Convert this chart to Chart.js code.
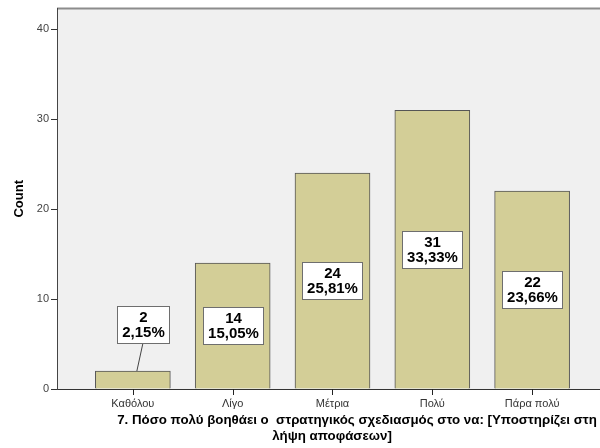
<!DOCTYPE html>
<html>
<head>
<meta charset="utf-8">
<script src="https://cdn.jsdelivr.net/npm/chart.js@4"></script>
<style>
  html, body { margin: 0; padding: 0; background: #fff; }
  #wrap { width: 600px; height: 448px; }
</style>
</head>
<body>
<div id="wrap"><canvas id="c"></canvas></div>
<script>
// Answers to question 7 and their counts
const categories = ['Καθόλου', 'Λίγο', 'Μέτρια', 'Πολύ', 'Πάρα πολύ'];
const counts = [2, 14, 24, 31, 22];
const yTicks = [0, 10, 20, 30, 40];
const yAxisTitle = 'Count';
const xAxisTitle = [
  '7. Πόσο πολύ βοηθάει ο  στρατηγικός σχεδιασμός στο να: [Υποστηρίζει στη',
  'λήψη αποφάσεων]'
];

const total = counts.reduce((a, b) => a + b, 0);
const FONT = 'Arial, "Liberation Sans", sans-serif';

// Grey plot panel with its top frame line
const plotBackground = {
  id: 'plotBackground',
  beforeDraw(chart) {
    const { ctx, chartArea: a } = chart;
    ctx.save();
    ctx.fillStyle = '#f0f0f0';
    ctx.fillRect(a.left, a.top, a.right - a.left, a.bottom - a.top);
    ctx.strokeStyle = '#8c8c8c';
    ctx.lineWidth = 2;
    ctx.beginPath();
    ctx.moveTo(a.left, a.top);
    ctx.lineTo(a.right, a.top);
    ctx.stroke();
    ctx.restore();
  }
};

// Short tick marks under the category axis, one per category
const categoryTicks = {
  id: 'categoryTicks',
  afterDraw(chart) {
    const { ctx, chartArea: a } = chart;
    const xs = chart.scales.x;
    ctx.save();
    ctx.strokeStyle = '#222';
    ctx.lineWidth = 1;
    categories.forEach((_, i) => {
      const px = Math.round(xs.getPixelForValue(i)) + 0.5;
      ctx.beginPath();
      ctx.moveTo(px, a.bottom);
      ctx.lineTo(px, a.bottom + 6);
      ctx.stroke();
    });
    ctx.restore();
  }
};

// Boxed "count / percent" labels on each bar
const valueLabels = {
  id: 'valueLabels',
  afterDatasetsDraw(chart) {
    const ctx = chart.ctx;
    const meta = chart.getDatasetMeta(0);
    ctx.save();
    ctx.font = 'bold 15px ' + FONT;
    ctx.textAlign = 'center';
    ctx.textBaseline = 'middle';
    meta.data.forEach((bar, i) => {
      const lines = [
        String(counts[i]),
        (counts[i] / total * 100).toFixed(2).replace('.', ',') + '%'
      ];
      const w = Math.round(Math.max(...lines.map(t => ctx.measureText(t).width)) + 9);
      const h = 37;
      const barH = bar.base - bar.y;
      let cx = bar.x;
      let cy = (bar.y + bar.base) / 2;
      let leader = false;
      if (barH < h + 6) {
        cx = bar.x + 10;
        cy = bar.y - 47;
        leader = true;
      }
      const x0 = Math.round(cx - w / 2) + 0.5;
      const y0 = Math.round(cy - h / 2) + 0.5;
      if (leader) {
        ctx.strokeStyle = '#444';
        ctx.lineWidth = 1;
        ctx.beginPath();
        ctx.moveTo(cx, y0 + h);
        ctx.lineTo(bar.x + 4, bar.y);
        ctx.stroke();
      }
      ctx.fillStyle = '#fff';
      ctx.fillRect(x0, y0, w, h);
      ctx.strokeStyle = '#6e6e6e';
      ctx.lineWidth = 1;
      ctx.strokeRect(x0, y0, w, h);
      ctx.fillStyle = '#000';
      ctx.fillText(lines[0], x0 + w / 2, y0 + h / 2 - 7);
      ctx.fillText(lines[1], x0 + w / 2, y0 + h / 2 + 8);
    });
    ctx.restore();
  }
};

// Two-line bold caption under the category axis
const xTitle = {
  id: 'xTitle',
  afterDraw(chart) {
    const ctx = chart.ctx;
    ctx.save();
    ctx.font = 'bold 13.3px ' + FONT;
    ctx.fillStyle = '#000';
    ctx.textAlign = 'center';
    ctx.textBaseline = 'middle';
    ctx.fillText(xAxisTitle[0], 357, 420);
    ctx.fillText(xAxisTitle[1], 332, 436);
    ctx.restore();
  }
};

new Chart(document.getElementById('c'), {
  type: 'bar',
  data: {
    datasets: [{
      data: counts.map((v, i) => ({ x: i, y: v })),
      backgroundColor: '#d3ce97',
      borderColor: '#555',
      borderWidth: 1,
      barThickness: 75
    }]
  },
  options: {
    responsive: true,
    maintainAspectRatio: false,
    animation: false,
    layout: { padding: { top: 6, left: 0, right: 0, bottom: 0 } },
    plugins: { legend: { display: false }, tooltip: { enabled: false } },
    scales: {
      x: {
        type: 'linear',
        min: -0.76,
        max: 4.68,
        offset: false,
        afterBuildTicks(s) { s.ticks = categories.map((_, i) => ({ value: i })); },
        afterFit(s) { s.height = 59; },
        ticks: {
          callback: v => categories[v],
          font: { family: FONT, size: 11 },
          color: '#333',
          padding: 2,
          maxRotation: 0,
          autoSkip: false
        },
        grid: { display: false, drawTicks: true, tickLength: 6 },
        border: { display: true, color: '#333', width: 1 }
      },
      y: {
        min: 0,
        max: 42.3,
        afterBuildTicks(s) { s.ticks = yTicks.map(v => ({ value: v })); },
        afterFit(s) { s.width = 57; },
        ticks: { font: { family: FONT, size: 11 }, color: '#444', padding: 2 },
        grid: { drawOnChartArea: false, drawTicks: true, tickLength: 6, color: '#333' },
        border: { display: true, color: '#444', width: 1 },
        title: {
          display: true,
          text: yAxisTitle,
          font: { family: FONT, size: 13, weight: 'bold' },
          color: '#000',
          padding: { top: 12, bottom: 0 }
        }
      }
    }
  },
  plugins: [plotBackground, valueLabels, categoryTicks, xTitle]
});
</script>
</body>
</html>
